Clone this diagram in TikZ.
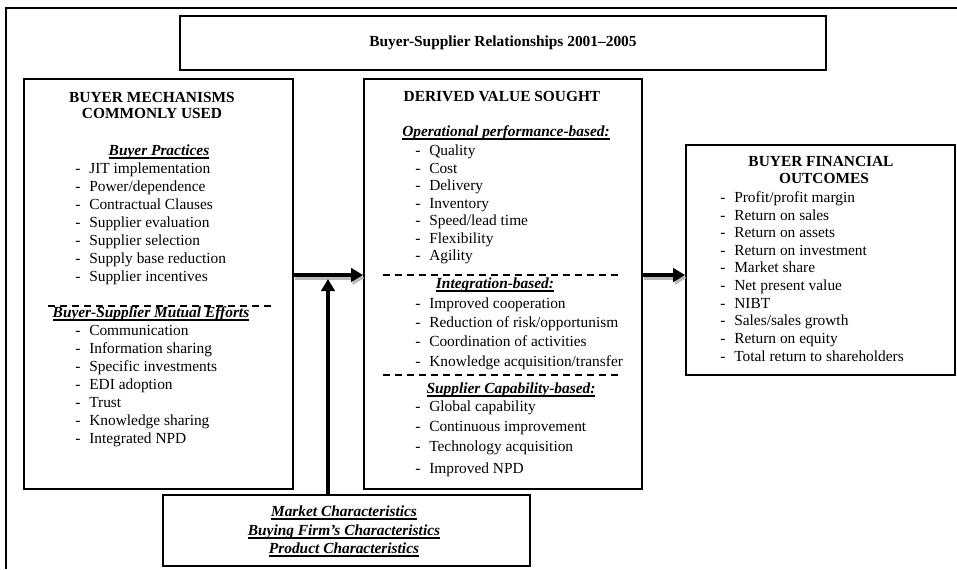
\documentclass[tikz,border=0pt]{standalone}
\usepackage{fontspec}
\setmainfont{Liberation Serif}
\usetikzlibrary{fit,arrows.meta}

% underline at a fixed depth, crossing the descenders
\newsavebox\ulbox
\newcommand{\ulx}[1]{\sbox\ulbox{#1}\rlap{\rule[-2.8pt]{\wd\ulbox}{1pt}}\usebox\ulbox}
\newcommand{\dashitem}[1]{\makebox[10.5pt][l]{-}#1}

\begin{document}
\begin{tikzpicture}[x=0.75pt,y=-0.75pt,
  txt/.style={font=\fontsize{11.55}{13}\selectfont, inner sep=0pt},
  listitem/.style={txt, anchor=mid west},
  hdr/.style={txt, font=\fontsize{11.55}{13}\selectfont\bfseries, anchor=mid},
  subhdr/.style={txt, font=\fontsize{11.55}{13}\selectfont\bfseries\itshape, anchor=mid},
  framebox/.style={draw, line width=1.3pt, inner sep=0pt},
  sepline/.style={line width=1.3pt, dash pattern=on 5.5pt off 3.5pt},
  bigarrow/.style={line width=3pt, -{Triangle[length=9pt,width=10pt]}},
  arrowshade/.style={bigarrow, draw=gray!55, fill=gray!55},
]
\useasboundingbox (0,0) rectangle (957,569);

% outer frame (only top and left edges fall inside the page)
\coordinate (ofl) at (6,569);
\coordinate (oftl) at (6,8);
\coordinate (oftr) at (957,8);
\draw[line width=1pt] (ofl) -- (oftl) -- (oftr);

% title
\node[framebox, fit={(180,16) (826,70)}] (titlebox) {};
\node[hdr] (title) at (titlebox.center) {Buyer-Supplier Relationships 2001--2005};

% boxes
\node[framebox, fit={(24,79) (293,489)}] (lbox) {};
\node[framebox, fit={(364,79) (642,489)}] (mbox) {};
\node[framebox, fit={(686,145) (955,375)}] (rbox) {};
\node[framebox, fit={(163,495) (530,566)}] (cbox) {};

% separators
\draw[sepline] (48,306) -- (275,306);
\draw[sepline] (383,275) -- (622,275);
\draw[sepline] (383,375) -- (622,375);

% left box: buyer mechanisms
\node[hdr] (lh1) at (152,99) {BUYER MECHANISMS};
\node[hdr] (lh2) at (152,115) {COMMONLY USED};
\node[subhdr] (bph) at (159,152) {\ulx{Buyer Practices}};
\foreach \y/\t [count=\i] in {170/{JIT implementation}, 188/{Power/dependence},
    206/{Contractual Clauses}, 224/{Supplier evaluation}, 242/{Supplier selection},
    260/{Supply base reduction}, 278/{Supplier incentives}}
  \node[listitem] (bp\i) at (75,\y) {\dashitem{\t}};
\node[subhdr] (meh) at (151,314) {\ulx{Buyer-Supplier Mutual Efforts}};
\foreach \y/\t [count=\i] in {332/{Communication}, 350/{Information sharing},
    368/{Specific investments}, 386/{EDI adoption}, 404/{Trust},
    422/{Knowledge sharing}, 440/{Integrated NPD}}
  \node[listitem] (me\i) at (75,\y) {\dashitem{\t}};

% middle box: derived value
\node[hdr] (mh) at (502,98) {DERIVED VALUE SOUGHT};
\node[subhdr] (oph) at (506,133) {\ulx{Operational performance-based:}};
\foreach \y/\t [count=\i] in {152/{Quality}, 170/{Cost}, 187/{Delivery},
    205/{Inventory}, 222/{Speed/lead time}, 240/{Flexibility}, 257/{Agility}}
  \node[listitem] (op\i) at (415,\y) {\dashitem{\t}};
\node[subhdr] (inh) at (495,285) {\ulx{Integration-based:}};
\foreach \y/\t [count=\i] in {305/{Improved cooperation},
    324/{Reduction of risk/opportunism}, 343/{Coordination of activities},
    363/{Knowledge acquisition/transfer}}
  \node[listitem] (in\i) at (415,\y) {\dashitem{\t}};
\node[subhdr] (sch) at (511,390) {\ulx{Supplier Capability-based:}};
\foreach \y/\t [count=\i] in {408/{Global capability}, 428/{Continuous improvement},
    448/{Technology acquisition}, 470/{Improved NPD}}
  \node[listitem] (sc\i) at (415,\y) {\dashitem{\t}};

% right box: financial outcomes
\node[hdr] (rh1) at (821,163) {BUYER FINANCIAL};
\node[hdr] (rh2) at (824,180) {OUTCOMES};
\foreach \y/\t [count=\i] in {199/{Profit/profit margin}, 217/{Return on sales},
    234/{Return on assets}, 252/{Return on investment}, 269/{Market share},
    287/{Net present value}, 305/{NIBT}, 322/{Sales/sales growth},
    340/{Return on equity}, 358/{Total return to shareholders}}
  \node[listitem] (fo\i) at (720,\y) {\dashitem{\t}};

% bottom box: contextual characteristics
\node[subhdr] (c1) at (344,513) {\ulx{Market Characteristics}};
\node[subhdr] (c2) at (344,532) {\ulx{Buying Firm’s Characteristics}};
\node[subhdr] (c3) at (344,550) {\ulx{Product Characteristics}};

% connectors
\coordinate (row) at (0,275);
\coordinate (join) at (328,279);
\draw[arrowshade] ([shift={(1.5,3)}]lbox.east |- row) -- ([shift={(1.5,3)}]mbox.west |- row);
\draw[arrowshade] ([shift={(1.5,3)}]mbox.east |- row) -- ([shift={(1.5,3)}]rbox.west |- row);
\draw[bigarrow] (lbox.east |- row) -- (mbox.west |- row);
\draw[bigarrow] (mbox.east |- row) -- (rbox.west |- row);
\draw[bigarrow, line width=3.4pt] (cbox.north -| join) -- (join);
\end{tikzpicture}
\end{document}
